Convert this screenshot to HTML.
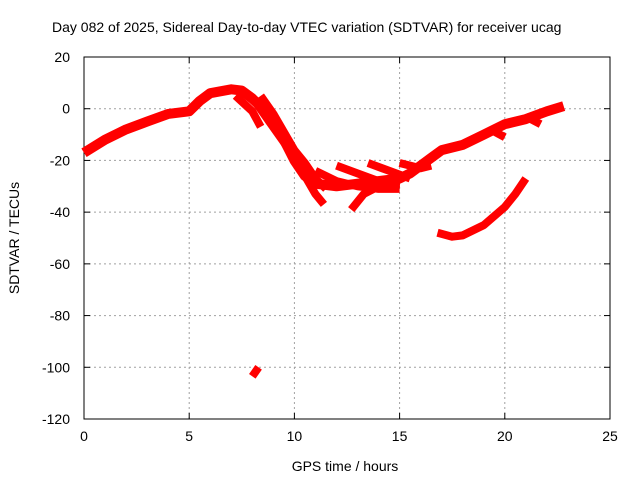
<!DOCTYPE html>
<html><head><meta charset="utf-8"><style>
body{margin:0;background:#fff;font-family:"Liberation Sans",sans-serif;}
svg text{font-family:"Liberation Sans",sans-serif;font-size:14px;fill:#000;}
</style></head><body>
<svg width="640" height="480">
<rect width="640" height="480" fill="#fff"/>
<text x="52" y="32">Day 082 of 2025, Sidereal Day-to-day VTEC variation (SDTVAR) for receiver ucag</text>
<g id="grid"></g>
<g id="axes"></g>
<g id="series"></g>
<text x="345" y="471" text-anchor="middle">GPS time / hours</text>
<text transform="translate(19,238) rotate(-90)" text-anchor="middle">SDTVAR / TECUs</text>
</svg>
<script>
const xTicks=[0,5,10,15,20,25];
const yTicks=[20,0,-20,-40,-60,-80,-100,-120];
const track1T=[0,1,2,3,4,5,5.5,6,7,7.5,8,8.5,9,9.5,10,10.5,11,12,13,14,15,15.5,16,16.5,17,18,19,20,21,22,22.8];
const track1V=[-17,-12,-8,-5,-2,-1,3,6,7.5,7,4,0,-6,-12,-20,-26,-29,-30,-29,-28,-27,-25,-22,-19,-16,-14,-10,-6,-4,-1,1];
const track2T=[7.6,8.2,8.8,9.5,10,10.5,11,11.4];
const track2V=[6,2,-5,-13,-19,-26,-33,-37];
const track3T=[8.4,9,9.5,10,10.5,11,11.5];
const track3V=[5,-2,-9,-16,-21,-27,-31];
const track4T=[7.2,8,8.4];
const track4V=[5,-1,-7];
const track5T=[11,12,13,14,15];
const track5V=[-24,-28,-30,-31,-31];
const track6T=[12,13,14,15];
const track6V=[-22,-25,-28,-30];
const track7T=[13.5,14.5,15.5];
const track7V=[-21,-24,-27];
const track8T=[12.7,13.3,14,15];
const track8V=[-39,-33,-30,-29];
const track9T=[15,16,16.5];
const track9V=[-21,-23,-22];
const track10T=[16.8,17.5,18,19,20,20.5,21];
const track10V=[-48,-49.5,-49,-45,-38,-33,-27];
const track11T=[8,8.3];
const track11V=[-103.5,-100];
const track12T=[19.3,20];
const track12V=[-8,-11];
const track13T=[21,21.7];
const track13V=[-3,-6];
const tracksT=[track1T,track2T,track3T,track4T,track5T,track6T,track7T,track8T,track9T,track10T,track11T,track12T,track13T];
const tracksV=[track1V,track2V,track3V,track4V,track5V,track6V,track7V,track8V,track9V,track10V,track11V,track12V,track13V];

const X0=84,X1=610,Y0=57,Y1=419;
const sx=t=>X0+(t-0)/25*(X1-X0);
const sy=v=>Y0+(20-v)/140*(Y1-Y0);
const NS="http://www.w3.org/2000/svg";
const grid=document.getElementById('grid'),axes=document.getElementById('axes'),series=document.getElementById('series');
function mk(tag,at,parent){const e=document.createElementNS(NS,tag);for(const k in at)e.setAttribute(k,at[k]);parent.appendChild(e);return e;}
xTicks.forEach(t=>{
  const x=sx(t);
  if(t>0&&t<25){const g=mk('line',{x1:x,y1:Y0,x2:x,y2:Y1,stroke:'#a0a0a0','stroke-dasharray':'2,3'},grid);
  
  }
  const tk=mk('line',{x1:x,y1:Y1,x2:x,y2:Y1-6,stroke:'#000'},axes);
  
  
  const tk2=mk('line',{x1:x,y1:Y0,x2:x,y2:Y0+6,stroke:'#000'},axes);
  
  
  const l=mk('text',{x:x,y:Y1+22,'text-anchor':'middle'},axes);l.textContent=t;
  
  
});
yTicks.forEach(v=>{
  const y=sy(v);
  if(v<20&&v>-120){const g=mk('line',{x1:X0,y1:y,x2:X1,y2:y,stroke:'#a0a0a0','stroke-dasharray':'2,3'},grid);
  
  }
  const tk=mk('line',{x1:X0,y1:y,x2:X0+6,y2:y,stroke:'#000'},axes);
  
  
  const tk2=mk('line',{x1:X1,y1:y,x2:X1-6,y2:y,stroke:'#000'},axes);
  
  
  const l=mk('text',{x:X0-14,y:y+5,'text-anchor':'end'},axes);l.textContent=v;
  
  
});
const fr=mk('rect',{x:X0,y:Y0,width:X1-X0,height:Y1-Y0,fill:'none',stroke:'#000'},axes);


tracksT.forEach((ts,i)=>{
  const vs=tracksV[i];
  const pts=ts.map((t,j)=>sx(t).toFixed(1)+','+sy(vs[j]).toFixed(1)).join(' ');
  const p=mk('polyline',{points:pts,fill:'none',stroke:'#ff0000','stroke-width':(i===0?10:8),'stroke-linejoin':'round','stroke-linecap':'butt'},series);
  
  
});
</script>
</body></html>
